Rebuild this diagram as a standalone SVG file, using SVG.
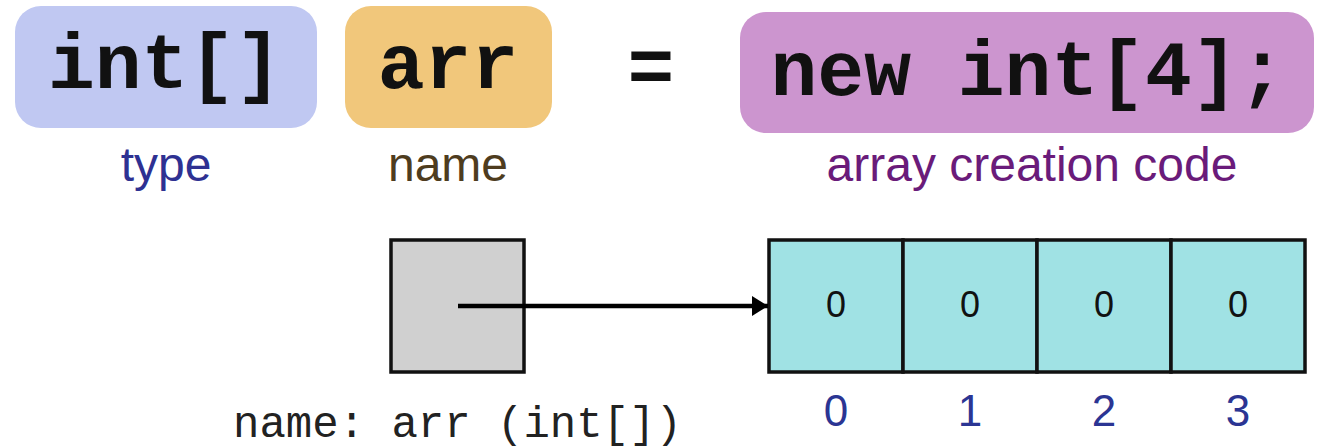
<svg xmlns="http://www.w3.org/2000/svg" width="1327" height="448" viewBox="0 0 1327 448">
<defs>
<style>
.code{font-family:"Courier New","Nimbus Mono PS","FreeMono","Liberation Mono",monospace;font-weight:bold;font-size:78px;fill:#111;text-anchor:middle}
.lbl{font-family:"Liberation Sans",Arial,sans-serif;font-size:48px;text-anchor:middle}
.cell{fill:#a0e2e4;stroke:#111;stroke-width:3.5}
.val{font-family:"Liberation Sans",Arial,sans-serif;font-size:36px;fill:#111;text-anchor:middle}
.idx{font-family:"Liberation Sans",Arial,sans-serif;font-size:44px;fill:#2b3593;text-anchor:middle}
.mono{font-family:"Courier New","Nimbus Mono PS","FreeMono","Liberation Mono",monospace;font-size:44px;fill:#222}
</style>
<marker id="ah" viewBox="0 0 8 10" refX="8" refY="5" markerWidth="3.6" markerHeight="4.6" markerUnits="strokeWidth" orient="auto">
<path d="M0,0 L8,5 L0,10 z" fill="#000"/>
</marker>
</defs>
<rect width="1327" height="448" fill="#fff"/>
<g id="type-box">
<rect x="15" y="6" width="302" height="122" rx="26" fill="#c0c8f2"/>
<text class="code" x="165" y="88">int[]</text>
<text class="lbl" x="166" y="181" fill="#2e3192">type</text>
</g>
<g id="name-box">
<rect x="345" y="6" width="207" height="122" rx="26" fill="#f1c77b"/>
<text class="code" x="448" y="88">arr</text>
<text class="lbl" x="448" y="181" fill="#4e3c1e">name</text>
</g>
<g id="equals">
<text class="code" x="651" y="92">=</text>
</g>
<g id="creation-box">
<rect x="740" y="12" width="574" height="121" rx="26" fill="#cc95cf"/>
<text class="code" x="1028" y="95">new int[4];</text>
<text class="lbl" x="1032" y="181" fill="#6a1b7a">array creation code</text>
</g>
<g id="ref-var">
<rect x="391" y="240" width="133" height="132" fill="#d0d0d0" stroke="#111" stroke-width="3.5"/>
<text class="mono" x="233" y="437">name: arr (int[])</text>
</g>
<g id="array">
<rect class="cell" x="769" y="240" width="134" height="132"/>
<rect class="cell" x="903" y="240" width="134" height="132"/>
<rect class="cell" x="1037" y="240" width="134" height="132"/>
<rect class="cell" x="1171" y="240" width="134" height="132"/>
<text class="val" x="836" y="317">0</text>
<text class="val" x="970" y="317">0</text>
<text class="val" x="1104" y="317">0</text>
<text class="val" x="1238" y="317">0</text>
<text class="idx" x="836" y="426">0</text>
<text class="idx" x="970" y="426">1</text>
<text class="idx" x="1104" y="426">2</text>
<text class="idx" x="1238" y="426">3</text>
</g>
<g id="connectors">
<line x1="458" y1="306" x2="768" y2="306" stroke="#000" stroke-width="4.5" marker-end="url(#ah)"/>
</g>
</svg>
